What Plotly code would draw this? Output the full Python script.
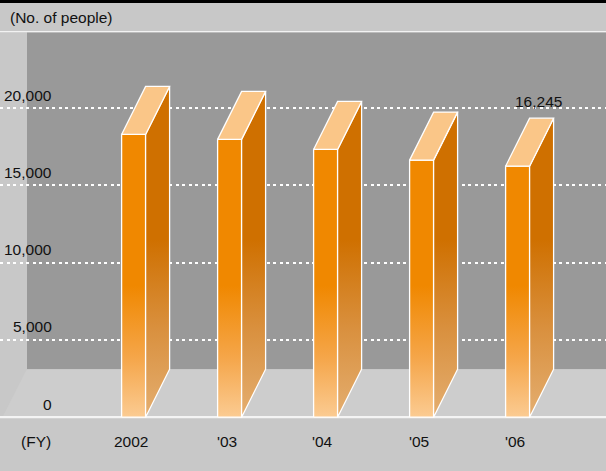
import plotly.graph_objects as go

# ---------------- data ----------------
categories = ["2002", "'03", "'04", "'05", "'06"]
values = [18300, 17980, 17330, 16640, 16245]
y_ticks = [0, 5000, 10000, 15000, 20000]
y_tick_labels = ["0", "5,000", "10,000", "15,000", "20,000"]
grid_ticks = [5000, 10000, 15000, 20000]
value_label_index = 4
value_label_text = "16,245"
y_title = "(No. of people)"
x_title = "(FY)"

# ---------------- geometry / style ----------------
W, H = 606, 471
PX_PER_CAT = 96.0
X_CENTER0_PX = 133.6
PX_PER_UNIT_Y = 0.01545
ZERO_PX = 417.2

x0 = -X_CENTER0_PX / PX_PER_CAT
x1 = x0 + W / PX_PER_CAT
y1 = ZERO_PX / PX_PER_UNIT_Y
y0 = y1 - H / PX_PER_UNIT_Y

BAR_W = 0.25      # front face width (x units)
DX = 0.25         # depth offset in x units
DY = 48 / PX_PER_UNIT_Y  # depth offset in y units

FONT = "Liberation Sans, Arial, sans-serif"
FS = 15.5
TXT = "#111111"


def px(xp):
    return xp / W


def py(yp):
    return 1 - yp / H


fig = go.Figure()

front_scale = [[0, "#fbcb92"], [0.45, "#f5a64a"], [1, "#f08800"]]
side_scale = [[0, "#e4ae70"], [0.5, "#d9903e"], [1, "#cf7000"]]
OUT = dict(color="white", width=1.3)

for i, (cat, v) in enumerate(zip(categories, values)):
    l = i - BAR_W / 2
    r = i + BAR_W / 2
    # front face
    fig.add_trace(go.Scatter(
        x=[l, r, r, l, l], y=[0, 0, v, v, 0], mode="lines", fill="toself",
        line=OUT, fillgradient=dict(type="vertical", colorscale=front_scale, start=0, stop=8500),
        hoverinfo="skip", showlegend=False, name=cat))
    # side face
    fig.add_trace(go.Scatter(
        x=[r, r + DX, r + DX, r, r], y=[0, DY, v + DY, v, 0], mode="lines", fill="toself",
        line=OUT, fillgradient=dict(type="vertical", colorscale=side_scale, start=0, stop=11500),
        hoverinfo="skip", showlegend=False, name=cat))
    # top face
    fig.add_trace(go.Scatter(
        x=[l, r, r + DX, l + DX, l], y=[v, v, v + DY, v + DY, v], mode="lines", fill="toself",
        line=OUT, fillcolor="#fac688", hoverinfo="skip", showlegend=False, name=cat))

shapes = []
# header band & black top strip
shapes.append(dict(type="rect", xref="paper", yref="paper", x0=0, x1=1, y0=py(31), y1=py(3),
                   fillcolor="#c8c8c8", line_width=0, layer="below"))
shapes.append(dict(type="rect", xref="paper", yref="paper", x0=0, x1=1, y0=py(3), y1=1,
                   fillcolor="#000000", line_width=0, layer="below"))
shapes.append(dict(type="rect", xref="paper", yref="paper", x0=0, x1=1, y0=py(32.5), y1=py(31),
                   fillcolor="#f2f2f2", line_width=0, layer="below"))
# back wall (dark)
shapes.append(dict(type="rect", xref="paper", yref="y", x0=px(27), x1=1, y0=DY, y1=y1 - 32.5 / PX_PER_UNIT_Y,
                   fillcolor="#999999", line_width=0, layer="below"))
# floor
shapes.append(dict(type="rect", xref="paper", yref="y", x0=0, x1=1, y0=0, y1=DY,
                   fillcolor="#cdcdcd", line_width=0, layer="below"))
# left wall
shapes.append(dict(type="path", xref="paper", yref="paper",
                   path=f"M0,{py(32.5)} L{px(27)},{py(32.5)} L{px(27)},{py(369)} L{px(3)},{py(416)} L0,{py(416)} Z",
                   fillcolor="#c8c8c8", line_width=0, layer="below"))
# floor front edge
shapes.append(dict(type="line", xref="paper", yref="y", x0=0, x1=1, y0=0, y1=0,
                   line=dict(color="#f4f4f4", width=2.2), layer="below"))

annotations = []
for t, lab in zip(y_ticks, y_tick_labels):
    annotations.append(dict(x=px(54), xref="paper", y=t, yref="y", text=lab, showarrow=False,
                            xanchor="right", yanchor="middle", yshift=13,
                            font=dict(family=FONT, size=FS, color=TXT)))
for i, cat in enumerate(categories):
    annotations.append(dict(x=i, xref="x", y=py(441), yref="paper", text=cat, showarrow=False,
                            xanchor="center", yanchor="middle", xshift=-3,
                            font=dict(family=FONT, size=FS, color=TXT)))
annotations.append(dict(x=px(36), xref="paper", y=py(441), yref="paper", text=x_title, showarrow=False,
                        xanchor="center", yanchor="middle", font=dict(family=FONT, size=FS, color=TXT)))
annotations.append(dict(x=px(8), xref="paper", y=py(18), yref="paper", text=y_title, showarrow=False,
                        xanchor="left", yanchor="middle", font=dict(family=FONT, size=FS, color=TXT)))
vi = value_label_index
annotations.append(dict(x=vi + DX, xref="x", y=values[vi] + DY, yref="y", text=value_label_text,
                        showarrow=False, xanchor="center", yanchor="middle", xshift=-3, yshift=17,
                        font=dict(family=FONT, size=FS, color=TXT)))

fig.update_layout(
    width=W, height=H, autosize=False,
    margin=dict(l=0, r=0, t=0, b=0, pad=0),
    paper_bgcolor="#c8c8c8", plot_bgcolor="rgba(0,0,0,0)",
    shapes=shapes, annotations=annotations, showlegend=False,
    xaxis=dict(range=[x0, x1], showgrid=False, zeroline=False, showticklabels=False,
               ticks="", fixedrange=True, showline=False),
    yaxis=dict(range=[y0, y1], tickvals=grid_ticks, showgrid=True, gridcolor="white",
               gridwidth=1.5, griddash="3px,3.5px", zeroline=False, showticklabels=False,
               ticks="", fixedrange=True, showline=False),
)

fig.write_html("out.html", config={"displayModeBar": False})
